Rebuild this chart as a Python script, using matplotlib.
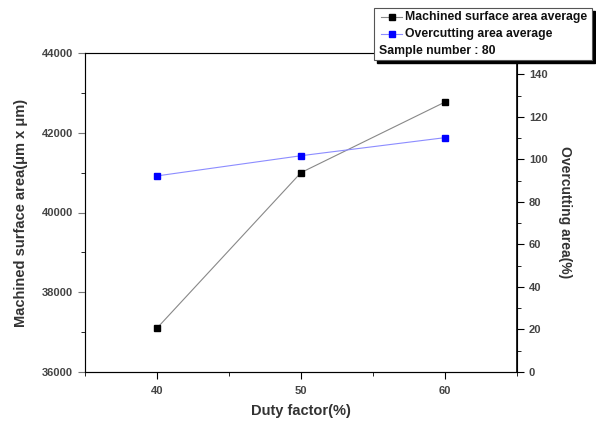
import matplotlib
matplotlib.use('Agg')
import matplotlib.pyplot as plt
from matplotlib.lines import Line2D
from matplotlib.patches import Rectangle
from matplotlib.ticker import MultipleLocator

plt.rcParams['font.family'] = ['Liberation Sans', 'DejaVu Sans']

duty = [40, 50, 60]
surface_area = [37100, 41000, 42770]
overcut = [92.2, 101.7, 110.2]

W, H = 596, 421
fig = plt.figure(figsize=(W / 100, H / 100), dpi=100)
ax = fig.add_axes([85 / W, 1 - 372 / H, (517 - 85) / W, (372 - 53) / H])
ax2 = ax.twinx()

ax.plot(duty, surface_area, color='#888888', lw=0.8, marker='s', ms=5,
        mfc='black', mec='black')
ax2.plot(duty, overcut, color='#8c8cff', lw=0.8, marker='s', ms=5,
         mfc='blue', mec='blue')

ax.set_xlim(35, 65)
ax.set_ylim(36000, 44000)
ax2.set_ylim(0, 150)
ax.set_xticks(duty)
ax.xaxis.set_minor_locator(MultipleLocator(5))
ax.yaxis.set_major_locator(MultipleLocator(2000))
ax.yaxis.set_minor_locator(MultipleLocator(1000))
ax2.yaxis.set_major_locator(MultipleLocator(20))
ax2.yaxis.set_minor_locator(MultipleLocator(10))

for a in (ax, ax2):
    a.tick_params(which='both', direction='out', labelsize=8, labelcolor='#444444')
    a.tick_params(which='major', length=5)
    a.tick_params(which='minor', length=3)
ax.tick_params(axis='x', pad=5)
for lbl in ax.get_xticklabels() + ax.get_yticklabels() + ax2.get_yticklabels():
    lbl.set_fontweight('bold')

ax.spines['left'].set_color('#777777')
ax.spines['top'].set_color('#777777')
ax.spines['bottom'].set_color('#333333')
ax2.spines['right'].set_color('black')
ax2.spines['right'].set_linewidth(1.2)
ax.tick_params(axis='y', colors='#777777', labelcolor='#444444')

ax.set_xlabel('Duty factor(%)', fontsize=10.5, fontweight='bold', color='#333333', labelpad=6)
ax.set_ylabel('Machined surface area(\u03bcm x \u03bcm)', fontsize=10.5, fontweight='bold',
              color='#333333', labelpad=10)
ax2.set_ylabel('Overcutting area(%)', fontsize=10, fontweight='bold', color='#333333',
               rotation=270, labelpad=18)

# legend box drawn by hand, with offset shadow
x0, y0, x1, y1 = 374, 8, 592, 60
shadow = Rectangle((x0 / W + 3 / W, 1 - y1 / H - 3 / H), (x1 - x0) / W, (y1 - y0) / H,
                   transform=fig.transFigure, facecolor='black', edgecolor='black', zorder=5)
box = Rectangle((x0 / W, 1 - y1 / H), (x1 - x0) / W, (y1 - y0) / H,
                transform=fig.transFigure, facecolor='white', edgecolor='#555555',
                lw=0.8, zorder=6)
fig.patches.extend([shadow, box])

entries = [('Machined surface area average', '#888888', 'black', 17),
           ('Overcutting area average', '#8c8cff', 'blue', 34)]
for label, lc, mc, yy in entries:
    fig.add_artist(Line2D([381 / W, 402 / W], [1 - yy / H] * 2, color=lc, lw=0.8,
                          transform=fig.transFigure, zorder=7))
    fig.add_artist(Line2D([392 / W], [1 - yy / H], marker='s', ms=4, color=mc,
                          transform=fig.transFigure, zorder=8))
    fig.text(405 / W, 1 - yy / H, label, fontsize=8.8, fontweight='bold',
             va='center', ha='left', zorder=8, color='#111111')
fig.text(379 / W, 1 - 51 / H, 'Sample number : 80', fontsize=8.8, fontweight='bold',
         va='center', ha='left', zorder=8, color='#111111')

fig.savefig('out.png', dpi=100)
